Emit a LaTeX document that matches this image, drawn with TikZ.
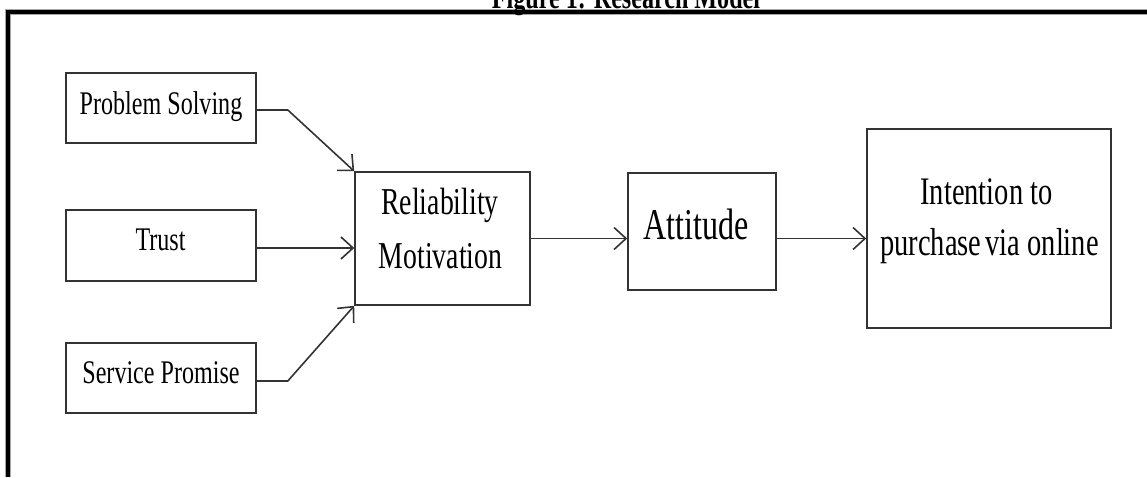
\documentclass[tikz,border=0pt]{standalone}
\usepackage{fontspec}
\setmainfont[FakeStretch=0.73]{Liberation Serif}
\usetikzlibrary{arrows.meta,calc}
\begin{document}
\begin{tikzpicture}[x=1pt,y=1pt,
  box/.style={draw=black!80,line width=1.6pt,inner sep=0pt},
  lbl/.style={anchor=base,inner sep=0pt,text=black},
  conn/.style={draw=black!80,line width=1.6pt,-{Straight Barb[length=12pt,width=22pt,line width=1.6pt]}},
  frame/.style={line width=3.5pt,draw=black}]
\useasboundingbox (0,0) rectangle (1147,477);
% frame
\coordinate (fb) at (8,0);
\coordinate (fc) at (8,465);
\coordinate (fr) at (1147,465);
\draw[line width=5.5pt,draw=black!35] (fb) -- (fc) -- (fr);
\draw[frame] (fb) -- (fc) -- (fr);
% title
\node[lbl,font=\fontsize{33}{36}\selectfont\bfseries] (title) at (626,468) {Figure 1: Research Model};
% boxes
\node[box,minimum width=190pt,minimum height=70pt] (ps) at (161,369) {};
\node[box,minimum width=190pt,minimum height=71pt] (tr) at (161,231.5) {};
\node[box,minimum width=190pt,minimum height=70pt] (sp) at (161,99) {};
\node[box,minimum width=175pt,minimum height=133pt] (rm) at (442.5,238.5) {};
\node[box,minimum width=148pt,minimum height=117pt] (at) at (702,245.5) {};
\node[box,minimum width=244pt,minimum height=199pt] (in) at (989,248.5) {};
% labels
\node[lbl,font=\fontsize{33}{36}\selectfont] (psl) at (161,362) {Problem Solving};
\node[lbl,font=\fontsize{33}{36}\selectfont] (trl) at (160.5,226) {Trust};
\node[lbl,font=\fontsize{33}{36}\selectfont] (spl) at (161,94) {Service Promise};
\node[lbl,font=\fontsize{38}{40}\selectfont] (rml1) at (440,262) {Reliability};
\node[lbl,font=\fontsize{38}{40}\selectfont] (rml2) at (440.5,209) {Motivation};
\node[lbl,font=\fontsize{44}{48}\selectfont] (atl) at (696,237) {Attitude};
\node[lbl,font=\fontsize{39}{42}\selectfont] (inl1) at (986.5,272) {Intention to};
\node[lbl,font=\fontsize{39}{42}\selectfont] (inl2) at (989.5,222) {purchase\hspace{-3pt} via online};
% connectors
\draw[conn] ($(ps.east)+(0,-2)$) -- ++(31,0) -- (rm.north west);
\draw[conn] ($(tr.east)+(0,-2.5)$) coordinate (t1) -- (t1 -| rm.west);
\draw[conn] ($(sp.east)+(0,-3)$) -- ++(31,0) -- (rm.south west);
\draw[conn] (rm.east) -- (rm.east -| at.west);
\draw[conn] (rm.east -| at.east) -- (rm.east -| in.west);
\end{tikzpicture}
\end{document}
